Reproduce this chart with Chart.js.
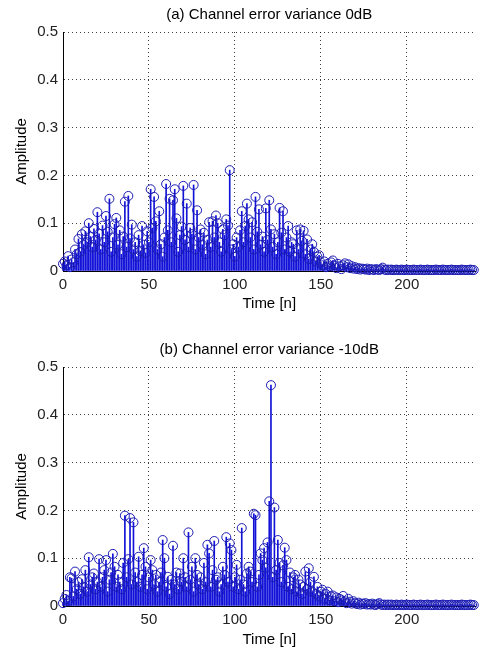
<!DOCTYPE html>
<html>
<head>
<meta charset="utf-8">
<script src="https://cdn.jsdelivr.net/npm/chart.js@4"></script>
<style>
  html, body { margin: 0; padding: 0; background: #fff; }
  canvas { display: block; }
</style>
</head>
<body>
<canvas id="chartA" width="481" height="326"></canvas>
<canvas id="chartB" width="481" height="326"></canvas>
<script>
// amplitude per sample, n = 0..239
const amplitudeA = [
    0.015, 0.02, 0.012, 0.031, 0.008, 0.024, 0.018, 0.045, 0.035, 0.067,
    0.04, 0.077, 0.055, 0.083, 0.06, 0.1, 0.072, 0.05, 0.088, 0.065,
    0.123, 0.078, 0.045, 0.095, 0.06, 0.115, 0.082, 0.151, 0.04, 0.07,
    0.098, 0.111, 0.055, 0.085, 0.035, 0.072, 0.145, 0.05, 0.157, 0.068,
    0.097, 0.045, 0.06, 0.03, 0.075, 0.042, 0.094, 0.055, 0.038, 0.083,
    0.06, 0.171, 0.09, 0.155, 0.104, 0.045, 0.125, 0.056, 0.03, 0.07,
    0.182, 0.085, 0.151, 0.06, 0.148, 0.171, 0.11, 0.04, 0.075, 0.093,
    0.178, 0.065, 0.141, 0.05, 0.09, 0.077, 0.18, 0.045, 0.127, 0.07,
    0.087, 0.055, 0.08, 0.035, 0.065, 0.102, 0.05, 0.104, 0.07, 0.116,
    0.1, 0.06, 0.04, 0.087, 0.075, 0.108, 0.095, 0.211, 0.045, 0.056,
    0.03, 0.07, 0.05, 0.085, 0.125, 0.06, 0.094, 0.141, 0.108, 0.07,
    0.102, 0.045, 0.155, 0.082, 0.129, 0.055, 0.072, 0.04, 0.131, 0.065,
    0.148, 0.087, 0.05, 0.077, 0.035, 0.06, 0.132, 0.08, 0.125, 0.045,
    0.07, 0.094, 0.04, 0.06, 0.056, 0.03, 0.085, 0.045, 0.087, 0.063,
    0.084, 0.035, 0.066, 0.025, 0.045, 0.056, 0.04, 0.02, 0.03, 0.033,
    0.018, 0.012, 0.02, 0.008, 0.015, 0.01, 0.018, 0.022, 0.012, 0.006,
    0.015, 0.01, 0.004, 0.012, 0.016, 0.008, 0.014, 0.006, 0.01, 0.005,
    0.008, 0.004, 0.006, 0.003, 0.005, 0.004, 0.003, 0.005, 0.002, 0.004,
    0.003, 0.002, 0.004, 0.003, 0.002, 0.004, 0.007, 0.003, 0.002, 0.003,
    0.002, 0.003, 0.002, 0.002, 0.003, 0.002, 0.002, 0.003, 0.002, 0.002,
    0.003, 0.002, 0.002, 0.002, 0.003, 0.002, 0.002, 0.002, 0.003, 0.002,
    0.002, 0.002, 0.003, 0.002, 0.002, 0.002, 0.002, 0.003, 0.002, 0.002,
    0.002, 0.003, 0.002, 0.002, 0.002, 0.002, 0.003, 0.002, 0.002, 0.002,
    0.002, 0.002, 0.003, 0.002, 0.002, 0.002, 0.002, 0.003, 0.002, 0.002
];

const amplitudeB = [
    0.006, 0.015, 0.023, 0.01, 0.06, 0.058, 0.02, 0.072, 0.035, 0.05,
    0.025, 0.056, 0.04, 0.075, 0.03, 0.102, 0.045, 0.06, 0.068, 0.035,
    0.05, 0.098, 0.04, 0.06, 0.075, 0.096, 0.03, 0.055, 0.07, 0.109,
    0.082, 0.04, 0.065, 0.05, 0.035, 0.09, 0.189, 0.06, 0.098, 0.184,
    0.045, 0.175, 0.07, 0.05, 0.103, 0.04, 0.065, 0.121, 0.082, 0.035,
    0.06, 0.096, 0.075, 0.045, 0.065, 0.03, 0.05, 0.07, 0.138, 0.1,
    0.04, 0.061, 0.025, 0.055, 0.126, 0.045, 0.07, 0.035, 0.068, 0.05,
    0.1, 0.06, 0.04, 0.154, 0.055, 0.082, 0.03, 0.1, 0.065, 0.045,
    0.06, 0.035, 0.09, 0.05, 0.128, 0.11, 0.04, 0.075, 0.136, 0.055,
    0.06, 0.03, 0.045, 0.082, 0.065, 0.144, 0.05, 0.131, 0.117, 0.04,
    0.06, 0.086, 0.035, 0.055, 0.163, 0.045, 0.03, 0.068, 0.082, 0.072,
    0.05, 0.193, 0.19, 0.04, 0.065, 0.11, 0.096, 0.121, 0.08, 0.133,
    0.219, 0.462, 0.06, 0.206, 0.075, 0.138, 0.09, 0.05, 0.085, 0.122,
    0.096, 0.04, 0.07, 0.035, 0.06, 0.065, 0.03, 0.055, 0.045, 0.025,
    0.04, 0.072, 0.035, 0.079, 0.05, 0.03, 0.061, 0.025, 0.04, 0.02,
    0.03, 0.034, 0.015, 0.025, 0.03, 0.012, 0.02, 0.022, 0.01, 0.018,
    0.008, 0.015, 0.012, 0.021, 0.01, 0.006, 0.015, 0.009, 0.005, 0.01,
    0.006, 0.004, 0.007, 0.003, 0.005, 0.004, 0.006, 0.003, 0.004, 0.003,
    0.005, 0.003, 0.002, 0.004, 0.006, 0.003, 0.002, 0.003, 0.002, 0.003,
    0.002, 0.003, 0.002, 0.002, 0.003, 0.002, 0.002, 0.003, 0.002, 0.002,
    0.003, 0.002, 0.002, 0.002, 0.003, 0.002, 0.002, 0.002, 0.003, 0.002,
    0.002, 0.002, 0.003, 0.002, 0.002, 0.002, 0.002, 0.003, 0.002, 0.002,
    0.002, 0.003, 0.002, 0.002, 0.002, 0.002, 0.003, 0.002, 0.002, 0.002,
    0.002, 0.002, 0.003, 0.002, 0.002, 0.002, 0.002, 0.003, 0.002, 0.002
];

const timeIndex = amplitudeA.map((v, i) => i);
const xTicks = [0, 50, 100, 150, 200];
const yTicks = [0, 0.1, 0.2, 0.3, 0.4, 0.5];

const titleA = "(a) Channel error variance 0dB";
const titleB = "(b) Channel error variance -10dB";

const stemColor = "#1212d8";
const markerColor = "#1c1cb4";
const font = "'Liberation Sans', Arial, sans-serif";

function makeStemChart(canvasId, title, values, layout) {
    const points = values.map((v, i) => ({ x: timeIndex[i], y: v }));

    new Chart(document.getElementById(canvasId), {
        type: "bar",
        data: {
            datasets: [
                {
                    type: "scatter",
                    data: points,
                    showLine: false,
                    pointStyle: "circle",
                    pointRadius: 4.5,
                    pointBorderWidth: 1,
                    pointBorderColor: markerColor,
                    pointBackgroundColor: "rgba(0,0,0,0)",
                    clip: false,
                    order: 1
                },
                {
                    type: "bar",
                    data: points,
                    backgroundColor: stemColor,
                    borderWidth: 0,
                    barThickness: 1,
                    clip: false,
                    order: 2
                }
            ]
        },
        options: {
            responsive: false,
            animation: false,
            events: [],
            layout: { padding: { top: 0, left: 0, right: 5, bottom: 0 } },
            plugins: {
                legend: { display: false },
                tooltip: { enabled: false },
                title: {
                    display: true,
                    text: title,
                    fullSize: false,
                    color: "#000",
                    font: { family: font, size: 15, weight: "normal", lineHeight: 1.2 },
                    padding: { top: layout.titleTop, bottom: 8 }
                }
            },
            scales: {
                x: {
                    type: "linear",
                    min: 0,
                    max: 240,
                    offset: false,
                    afterBuildTicks: s => { s.ticks = xTicks.map(v => ({ value: v })); },
                    afterFit: s => { s.height = layout.xHeight; },
                    grid: { offset: false, drawTicks: false, color: "rgba(0,0,0,0.75)", lineWidth: 1 },
                    border: { display: true, color: "#000", width: 1, dash: [1, 3] },
                    ticks: { color: "#222", padding: 5, font: { family: font, size: 15 } },
                    title: {
                        display: true,
                        text: "Time [n]",
                        color: "#000",
                        font: { family: font, size: 15, lineHeight: 1.2 },
                        padding: { top: 0, bottom: layout.xTitleBottom }
                    }
                },
                y: {
                    min: 0,
                    max: 0.5,
                    afterBuildTicks: s => { s.ticks = yTicks.map(v => ({ value: v })); },
                    afterFit: s => { s.width = 63; },
                    grid: { drawTicks: false, color: "rgba(0,0,0,0.75)", lineWidth: 1 },
                    border: { display: true, color: "#000", width: 1, dash: [1, 3] },
                    ticks: {
                        color: "#222",
                        padding: 5,
                        font: { family: font, size: 15 },
                        callback: v => (v === 0 ? "0" : v.toFixed(1))
                    },
                    title: {
                        display: true,
                        text: "Amplitude",
                        color: "#000",
                        font: { family: font, size: 15, lineHeight: 1.2 },
                        padding: { top: 13, bottom: 0 }
                    }
                }
            }
        }
    });
}

makeStemChart("chartA", titleA, amplitudeA, { titleTop: 6, xHeight: 55, xTitleBottom: 13 });
makeStemChart("chartB", titleB, amplitudeB, { titleTop: 15, xHeight: 46, xTitleBottom: 3 });
</script>
</body>
</html>
